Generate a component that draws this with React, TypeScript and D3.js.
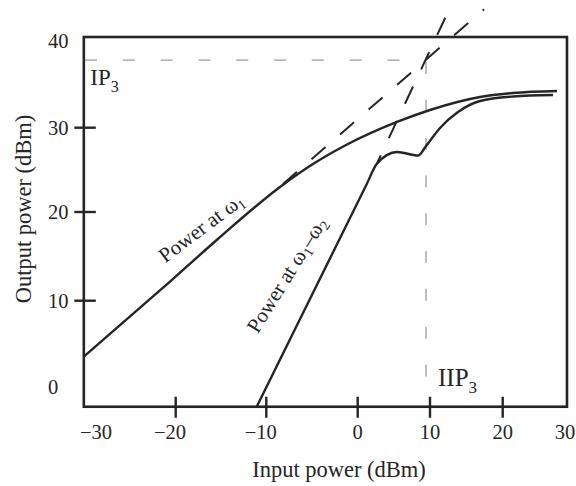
import React from 'react';
import * as d3 from 'd3';

// ---- data ----
const xTickValues = [-30, -20, -10, 0, 10, 20, 30];
const yTickValues = [0, 10, 20, 30, 40];
const xTickMarks = [-20, -10, 0, 10, 20];
const yTickMarks = [10, 20, 30];
const xExtent = [-32.4, 30.32];
const yExtent = [-2.33, 40.46];

const fundamentalX = [-32.4, -20.54, -15.47, -8.5, -4.89, -1.17, 5.44, 10, 16.88, 21.65, 28.72];
const fundamentalY = [3.49, 12.33, 16.84, 22.97, 25.69, 28.0, 30.66, 32.04, 33.54, 34.0, 34.23];

const im3X = [-11.06, 1.24, 2.63, 5.44, 8.34, 9.45, 11.38, 13.85, 16.88, 21.65, 28.07];
const im3Y = [-2.33, 23.3, 25.69, 27.12, 26.7, 27.83, 29.97, 31.81, 33.08, 33.6, 33.77];

const fundExtX = [-8.17, 17.43];
const fundExtY = [23.32, 43.66];
const im3ExtX = [2.63, 12.34];
const im3ExtY = [25.69, 43.11];

const IP3 = 37.8;
const IIP3 = 9.45;

const label1Anchor = [-21.4, 14.2];
const label2Anchor = [-10.95, 6.1];

const INK = '#252525';
const FONT = '"Liberation Serif", "Times New Roman", serif';

export default function App() {
  const x = d3
    .scaleLinear()
    .domain(xTickValues)
    .range([101.6, 175.7, 266.3, 357.7, 430, 502.7, 565]);
  const y = d3
    .scaleLinear()
    .domain(yTickValues)
    .range([386.7, 300.7, 212, 127.7, 41]);

  const line = d3
    .line<[number, number]>()
    .x((d) => x(d[0]))
    .y((d) => y(d[1]));
  const smooth = d3
    .line<[number, number]>()
    .x((d) => x(d[0]))
    .y((d) => y(d[1]))
    .curve(d3.curveMonotoneX);

  const zip = (a: number[], b: number[]) => a.map((v, i) => [v, b[i]] as [number, number]);
  const fmt = d3.format('d');

  const x0 = x(xExtent[0]);
  const x1 = x(xExtent[1]);
  const y0 = y(yExtent[0]);
  const y1 = y(yExtent[1]);

  const l1 = [x(label1Anchor[0]), y(label1Anchor[1])];
  const l2 = [x(label2Anchor[0]), y(label2Anchor[1])];

  return (
    <svg
      width={576}
      height={486}
      style={{ position: 'absolute', left: 0, top: 0, background: '#fff', display: 'block' }}
      fontFamily={FONT}
    >
      {/* gray reference dashes */}
      <path
        d={line([[xExtent[0], IP3], [IIP3, IP3]]) || ''}
        fill="none"
        stroke="#9c9c9c"
        strokeWidth={1.3}
        strokeDasharray="0 1.2 12 24.6"
      />
      <path
        d={line([[IIP3, IP3], [IIP3, 0]]) || ''}
        fill="none"
        stroke="#9c9c9c"
        strokeWidth={1.3}
        strokeDasharray="0 2 12 23.8"
      />

      {/* frame */}
      <rect x={x0} y={y1} width={x1 - x0} height={y0 - y1} fill="none" stroke={INK} strokeWidth={2.6} />

      {/* ticks */}
      {xTickMarks.map((v) => (
        <line key={'xt' + v} x1={x(v)} x2={x(v)} y1={y0 - 10} y2={y0 + 11} stroke={INK} strokeWidth={2.4} />
      ))}
      {yTickMarks.map((v) => (
        <line key={'yt' + v} x1={x0 - 9.5} x2={x0 + 12} y1={y(v)} y2={y(v)} stroke={INK} strokeWidth={2.4} />
      ))}

      {/* tick labels */}
      {xTickValues.map((v) => (
        <text
          key={'xl' + v}
          x={x(v) - (v < 0 ? 5.6 : 0)}
          y={438.5}
          textAnchor="middle"
          fontSize={20.5}
          fill={INK}
        >
          {fmt(v)}
        </text>
      ))}
      {yTickValues.map((v) => (
        <text key={'yl' + v} x={48} y={y(v) + 7} textAnchor="start" fontSize={20.5} fill={INK}>
          {fmt(v)}
        </text>
      ))}

      {/* curves */}
      <path d={smooth(zip(fundamentalX, fundamentalY)) || ''} fill="none" stroke={INK} strokeWidth={2.4} strokeLinejoin="round" />
      <path d={smooth(zip(im3X, im3Y)) || ''} fill="none" stroke={INK} strokeWidth={2.4} strokeLinejoin="round" />

      {/* extrapolations */}
      <path
        d={line(zip(fundExtX, fundExtY)) || ''}
        fill="none"
        stroke={INK}
        strokeWidth={2}
        strokeDasharray="18.5 19.3"
      />
      <path
        d={line(zip(im3ExtX, im3ExtY)) || ''}
        fill="none"
        stroke={INK}
        strokeWidth={2}
        strokeDasharray="19 19"
        strokeDashoffset={9.4}
      />

      {/* curve labels */}
      <text transform={`translate(${l1[0]},${l1[1]}) rotate(-37)`} fontSize={21} fill={INK}>
        Power at ω<tspan dy={4} fontSize={14}>1</tspan>
      </text>
      <text transform={`translate(${l2[0]},${l2[1]}) rotate(-58)`} fontSize={21} fill={INK}>
        Power at ω<tspan dy={4} fontSize={14}>1</tspan>
        <tspan dy={-4}>–ω</tspan>
        <tspan dy={4} fontSize={14}>2</tspan>
      </text>

      {/* intercept labels */}
      <text x={x0 + 6.5} y={y(IP3) + 25} fontSize={23} fill={INK}>
        IP<tspan dy={7} fontSize={16}>3</tspan>
      </text>
      <text x={x(IIP3) + 12} y={386} fontSize={25} fill={INK}>
        IIP<tspan dy={7} fontSize={17}>3</tspan>
      </text>

      {/* axis titles */}
      <text x={339} y={476.5} textAnchor="middle" fontSize={22.5} fill={INK}>
        Input power (dBm)
      </text>
      <text transform="translate(31,209) rotate(-90)" textAnchor="middle" fontSize={22.5} fill={INK}>
        Output power (dBm)
      </text>
    </svg>
  );
}
